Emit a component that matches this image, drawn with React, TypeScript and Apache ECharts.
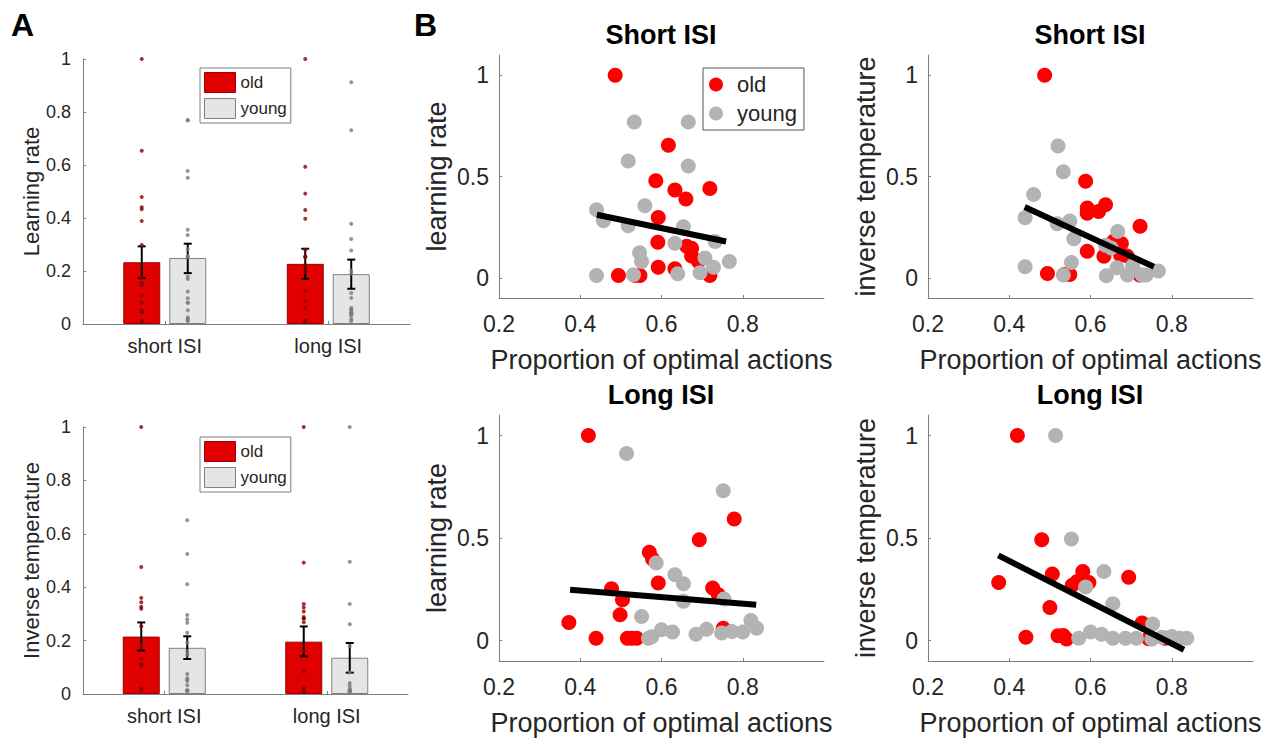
import React, { useEffect, useRef } from 'react';
import * as echarts from 'echarts';

const FONT = '"Liberation Sans", Arial, Helvetica, sans-serif';
const TEXT = '#262626';
const AXIS = '#808080';

const groups = ['old', 'young'];
const isiCategories = ['short ISI', 'long ISI'];

// Panel A: bar means and error-bar bounds, per ISI category
const lrMeanOld = [0.233, 0.227];
const lrMeanYoung = [0.249, 0.188];
const lrLowOld = [0.173, 0.17];
const lrHighOld = [0.293, 0.284];
const lrLowYoung = [0.192, 0.133];
const lrHighYoung = [0.303, 0.243];

const itMeanOld = [0.215, 0.196];
const itMeanYoung = [0.173, 0.136];
const itLowOld = [0.163, 0.141];
const itHighOld = [0.268, 0.253];
const itLowYoung = [0.131, 0.08];
const itHighYoung = [0.216, 0.191];

// Panel B: [proportion of optimal actions, parameter]
const shortLrOld = [[0.486, 1.0], [0.617, 0.654], [0.586, 0.479], [0.633, 0.433], [0.66, 0.389], [0.719, 0.441], [0.592, 0.298], [0.591, 0.175], [0.662, 0.156], [0.674, 0.146], [0.674, 0.107], [0.691, 0.08], [0.592, 0.052], [0.633, 0.044], [0.494, 0.011], [0.535, 0.011], [0.547, 0.011], [0.719, 0.011]];
const shortLrYoung = [[0.533, 0.769], [0.666, 0.769], [0.518, 0.577], [0.666, 0.552], [0.559, 0.356], [0.44, 0.336], [0.457, 0.282], [0.518, 0.257], [0.654, 0.252], [0.633, 0.17], [0.732, 0.179], [0.546, 0.123], [0.551, 0.08], [0.707, 0.097], [0.728, 0.052], [0.767, 0.08], [0.44, 0.011], [0.531, 0.015], [0.64, 0.02], [0.695, 0.025]];
const shortItOld = [[0.487, 1.0], [0.588, 0.476], [0.592, 0.344], [0.592, 0.319], [0.62, 0.327], [0.637, 0.36], [0.722, 0.254], [0.657, 0.18], [0.676, 0.169], [0.592, 0.131], [0.633, 0.106], [0.674, 0.111], [0.69, 0.108], [0.494, 0.021], [0.536, 0.016], [0.549, 0.016], [0.721, 0.013]];
const shortItYoung = [[0.52, 0.651], [0.533, 0.524], [0.46, 0.411], [0.439, 0.296], [0.518, 0.267], [0.549, 0.28], [0.559, 0.193], [0.667, 0.229], [0.637, 0.16], [0.651, 0.147], [0.553, 0.075], [0.665, 0.049], [0.704, 0.059], [0.439, 0.054], [0.533, 0.013], [0.639, 0.01], [0.691, 0.013], [0.727, 0.013], [0.737, 0.013], [0.767, 0.033]];
const longLrOld = [[0.42, 1.0], [0.779, 0.593], [0.693, 0.492], [0.57, 0.43], [0.578, 0.397], [0.592, 0.28], [0.477, 0.252], [0.504, 0.199], [0.498, 0.125], [0.372, 0.088], [0.726, 0.256], [0.74, 0.223], [0.752, 0.06], [0.439, 0.011], [0.516, 0.011], [0.527, 0.011], [0.539, 0.011]];
const longLrYoung = [[0.514, 0.912], [0.752, 0.731], [0.587, 0.378], [0.633, 0.321], [0.654, 0.277], [0.654, 0.191], [0.754, 0.202], [0.551, 0.117], [0.568, 0.011], [0.576, 0.018], [0.6, 0.052], [0.627, 0.041], [0.685, 0.031], [0.711, 0.055], [0.748, 0.036], [0.773, 0.044], [0.8, 0.041], [0.82, 0.098], [0.834, 0.06]];
const longItOld = [[0.42, 1.0], [0.48, 0.492], [0.374, 0.283], [0.506, 0.324], [0.581, 0.337], [0.596, 0.283], [0.555, 0.269], [0.567, 0.288], [0.694, 0.309], [0.5, 0.161], [0.727, 0.085], [0.441, 0.016], [0.52, 0.023], [0.533, 0.024], [0.541, 0.007], [0.743, 0.008], [0.784, 0.011]];
const longItYoung = [[0.514, 1.0], [0.553, 0.495], [0.633, 0.337], [0.588, 0.261], [0.655, 0.179], [0.753, 0.081], [0.571, 0.011], [0.6, 0.041], [0.627, 0.031], [0.655, 0.011], [0.686, 0.011], [0.713, 0.011], [0.751, 0.007], [0.8, 0.02], [0.82, 0.011], [0.837, 0.011], [0.776, 0.016]];

// Regression line endpoints
const regShortLr = [[0.441, 0.311], [0.759, 0.179]];
const regShortIt = [[0.438, 0.349], [0.756, 0.054]];
const regLongLr = [[0.375, 0.248], [0.833, 0.174]];
const regLongIt = [[0.373, 0.415], [0.83, -0.045]];

const barYTicks = [0, 0.2, 0.4, 0.6, 0.8, 1];
const scatterXTicks = [0.2, 0.4, 0.6, 0.8];
const scatterYTicks = [0, 0.5, 1];

const OLD_BAR = '#e00000';
const OLD_BAR_BORDER = '#a00000';
const YOUNG_BAR = '#e5e5e5';
const YOUNG_BAR_BORDER = '#808080';
const OLD_DOT = '#8b0000';
const YOUNG_DOT = '#7a7a7a';
const OLD_PT = '#ff0000';
const YOUNG_PT = '#b3b3b3';

const BAR_W = 37;
const BAR_GAP = 9;
const OFF = (BAR_W + BAR_GAP) / 2;

function errSeries(axis: number, low: number[], high: number[], offset: number) {
  return {
    type: 'custom',
    xAxisIndex: axis,
    yAxisIndex: axis,
    z: 4,
    silent: true,
    data: low.map((l, k) => [k, l, high[k]]),
    encode: { x: 0, y: [1, 2] },
    renderItem: (params: any, api: any) => {
      const c = api.value(0);
      const p1 = api.coord([c, api.value(1)]);
      const p2 = api.coord([c, api.value(2)]);
      const x = p1[0] + offset;
      const st = { stroke: '#000', lineWidth: 2 };
      return {
        type: 'group',
        children: [
          { type: 'line', shape: { x1: x, y1: p1[1], x2: x, y2: p2[1] }, style: st },
          { type: 'line', shape: { x1: x - 4, y1: p1[1], x2: x + 4, y2: p1[1] }, style: st },
          { type: 'line', shape: { x1: x - 4, y1: p2[1], x2: x + 4, y2: p2[1] }, style: st },
        ],
      };
    },
  };
}

function dotSeries(axis: number, name: string, shortPts: number[][], longPts: number[][], offset: number, color: string) {
  return {
    type: 'scatter',
    name,
    xAxisIndex: axis,
    yAxisIndex: axis,
    z: 5,
    silent: true,
    symbolSize: 4,
    symbolOffset: [offset, 0],
    itemStyle: { color },
    data: [...shortPts.map((p) => [0, p[1]]), ...longPts.map((p) => [1, p[1]])],
  };
}

function panelA(axis: number, mOld: number[], mYoung: number[], lo: number[], ho: number[], ly: number[], hy: number[],
  sOld: number[][], lOld: number[][], sYoung: number[][], lYoung: number[][]) {
  return [
    {
      type: 'bar', name: groups[0], xAxisIndex: axis, yAxisIndex: axis, data: mOld, barWidth: BAR_W,
      barGap: (BAR_GAP / BAR_W) * 100 + '%', z: 2, silent: true,
      itemStyle: { color: OLD_BAR, borderColor: OLD_BAR_BORDER, borderWidth: 1 },
    },
    {
      type: 'bar', name: groups[1], xAxisIndex: axis, yAxisIndex: axis, data: mYoung, barWidth: BAR_W,
      barGap: (BAR_GAP / BAR_W) * 100 + '%', z: 2, silent: true,
      itemStyle: { color: YOUNG_BAR, borderColor: YOUNG_BAR_BORDER, borderWidth: 1 },
    },
    errSeries(axis, lo, ho, -OFF),
    errSeries(axis, ly, hy, OFF),
    dotSeries(axis, groups[0], sOld, lOld, -OFF, OLD_DOT),
    dotSeries(axis, groups[1], sYoung, lYoung, OFF, YOUNG_DOT),
  ];
}

function panelB(axis: number, old: number[][], young: number[][], reg: number[][]) {
  return [
    { type: 'scatter', name: groups[0], xAxisIndex: axis, yAxisIndex: axis, data: old, symbolSize: 15, itemStyle: { color: OLD_PT, opacity: 1 }, z: 2, silent: true },
    { type: 'scatter', name: groups[1], xAxisIndex: axis, yAxisIndex: axis, data: young, symbolSize: 15, itemStyle: { color: YOUNG_PT, opacity: 1 }, z: 3, silent: true },
    { type: 'line', xAxisIndex: axis, yAxisIndex: axis, data: reg, symbol: 'none', lineStyle: { color: '#000', width: 6 }, z: 6, silent: true },
  ];
}

const grids = [
  { left: 83, top: 59, width: 327, height: 265 },
  { left: 83, top: 427, width: 325, height: 267 },
  { left: 499, top: 55, width: 325, height: 243 },
  { left: 928, top: 55, width: 325, height: 243 },
  { left: 499, top: 415, width: 325, height: 246 },
  { left: 928, top: 415, width: 325, height: 246 },
];

function xCat(g: number) {
  return {
    type: 'category', gridIndex: g, data: isiCategories,
    axisLine: { onZero: false, lineStyle: { color: AXIS, width: 1 } },
    axisTick: { show: true, inside: true, alignWithLabel: true, length: 3, lineStyle: { color: AXIS } },
    axisLabel: { fontSize: 20, color: TEXT, margin: 12, fontFamily: FONT },
    splitLine: { show: false },
  };
}
function yBar(g: number, name: string) {
  return {
    type: 'value', gridIndex: g, min: 0, max: 1, interval: 0.2, name, nameLocation: 'middle', nameGap: 40,
    nameTextStyle: { fontSize: 22, color: TEXT, fontFamily: FONT },
    axisLine: { show: true, onZero: false, lineStyle: { color: AXIS, width: 1 } },
    axisTick: { show: true, inside: true, length: 3, lineStyle: { color: AXIS } },
    axisLabel: { fontSize: 18, color: TEXT, margin: 12, fontFamily: FONT, customValues: barYTicks },
    splitLine: { show: false },
  };
}
function xSc(g: number) {
  return {
    type: 'value', gridIndex: g, min: 0.2, max: 1, name: 'Proportion of optimal actions', nameLocation: 'middle', nameGap: 48,
    nameTextStyle: { fontSize: 27, color: TEXT, fontFamily: FONT },
    axisLine: { show: true, onZero: false, lineStyle: { color: AXIS, width: 1 } },
    axisTick: { show: true, inside: true, length: 3, lineStyle: { color: AXIS }, customValues: scatterXTicks },
    axisLabel: { fontSize: 23, color: TEXT, margin: 14, fontFamily: FONT, customValues: scatterXTicks },
    splitLine: { show: false },
  };
}
function ySc(g: number, name: string) {
  return {
    type: 'value', gridIndex: g, min: -0.1, max: 1.1, name, nameLocation: 'middle', nameGap: 49,
    nameTextStyle: { fontSize: 27, color: TEXT, fontFamily: FONT },
    axisLine: { show: true, onZero: false, lineStyle: { color: AXIS, width: 1 } },
    axisTick: { show: true, inside: true, length: 3, lineStyle: { color: AXIS }, customValues: scatterYTicks },
    axisLabel: { fontSize: 23, color: TEXT, margin: 10, fontFamily: FONT, customValues: scatterYTicks },
    splitLine: { show: false },
  };
}

function barLegend(top: number) {
  return {
    orient: 'vertical', left: 200, top, selectedMode: false,
    itemWidth: 31, itemHeight: 20, itemGap: 5, padding: [4, 4, 4, 4],
    borderColor: '#808080', borderWidth: 1, backgroundColor: '#fff',
    textStyle: { fontSize: 17, color: TEXT, fontFamily: FONT },
    data: [
      { name: groups[0], icon: 'rect', itemStyle: { color: OLD_BAR, borderColor: OLD_BAR_BORDER, borderWidth: 1 } },
      { name: groups[1], icon: 'rect', itemStyle: { color: YOUNG_BAR, borderColor: YOUNG_BAR_BORDER, borderWidth: 1 } },
    ],
  };
}

export default function App() {
  const ref = useRef<HTMLDivElement>(null);
  useEffect(() => {
    if (!ref.current) return;
    const chart = echarts.init(ref.current, null, { renderer: 'svg' });
    const titleStyle = { fontSize: 27, fontWeight: 'bold', color: '#000', fontFamily: FONT };
    const option: any = {
      animation: false,
      backgroundColor: '#fff',
      textStyle: { fontFamily: FONT },
      title: [
        { text: 'A', left: 11, top: 9, padding: 0, textStyle: { fontSize: 32, fontWeight: 'bold', color: '#000', fontFamily: FONT } },
        { text: 'B', left: 414, top: 9, padding: 0, textStyle: { fontSize: 32, fontWeight: 'bold', color: '#000', fontFamily: FONT } },
        { text: 'Short ISI', left: 661, top: 21, padding: 0, textAlign: 'center', textVerticalAlign: 'top', textStyle: titleStyle },
        { text: 'Short ISI', left: 1090, top: 21, padding: 0, textAlign: 'center', textVerticalAlign: 'top', textStyle: titleStyle },
        { text: 'Long ISI', left: 661, top: 381, padding: 0, textAlign: 'center', textVerticalAlign: 'top', textStyle: titleStyle },
        { text: 'Long ISI', left: 1090, top: 381, padding: 0, textAlign: 'center', textVerticalAlign: 'top', textStyle: titleStyle },
      ],
      legend: [
        barLegend(68),
        barLegend(437),
        {
          orient: 'vertical', left: 703, top: 68, selectedMode: false,
          itemWidth: 32, itemHeight: 14, itemGap: 4, padding: [4, 7, 4, 6],
          borderColor: '#555', borderWidth: 1, backgroundColor: '#fff',
          textStyle: { fontSize: 22, lineHeight: 25, color: TEXT, fontFamily: FONT },
          data: [
            { name: groups[0], icon: 'circle', itemStyle: { color: OLD_PT, borderWidth: 0 } },
            { name: groups[1], icon: 'circle', itemStyle: { color: YOUNG_PT, borderWidth: 0 } },
          ],
        },
      ],
      grid: grids.map((g) => ({ ...g, containLabel: false, outerBoundsMode: 'none' })),
      xAxis: [xCat(0), xCat(1), xSc(2), xSc(3), xSc(4), xSc(5)],
      yAxis: [
        yBar(0, 'Learning rate'),
        yBar(1, 'Inverse temperature'),
        ySc(2, 'learning rate'),
        ySc(3, 'inverse temperature'),
        ySc(4, 'learning rate'),
        ySc(5, 'inverse temperature'),
      ],
      series: [
        ...panelA(0, lrMeanOld, lrMeanYoung, lrLowOld, lrHighOld, lrLowYoung, lrHighYoung, shortLrOld, longLrOld, shortLrYoung, longLrYoung),
        ...panelA(1, itMeanOld, itMeanYoung, itLowOld, itHighOld, itLowYoung, itHighYoung, shortItOld, longItOld, shortItYoung, longItYoung),
        ...panelB(2, shortLrOld, shortLrYoung, regShortLr),
        ...panelB(3, shortItOld, shortItYoung, regShortIt),
        ...panelB(4, longLrOld, longLrYoung, regLongLr),
        ...panelB(5, longItOld, longItYoung, regLongIt),
      ],
    };
    chart.setOption(option);
    return () => chart.dispose();
  }, []);
  return <div ref={ref} style={{ position: 'absolute', left: 0, top: 0, width: 1270, height: 738, background: '#fff' }} />;
}
